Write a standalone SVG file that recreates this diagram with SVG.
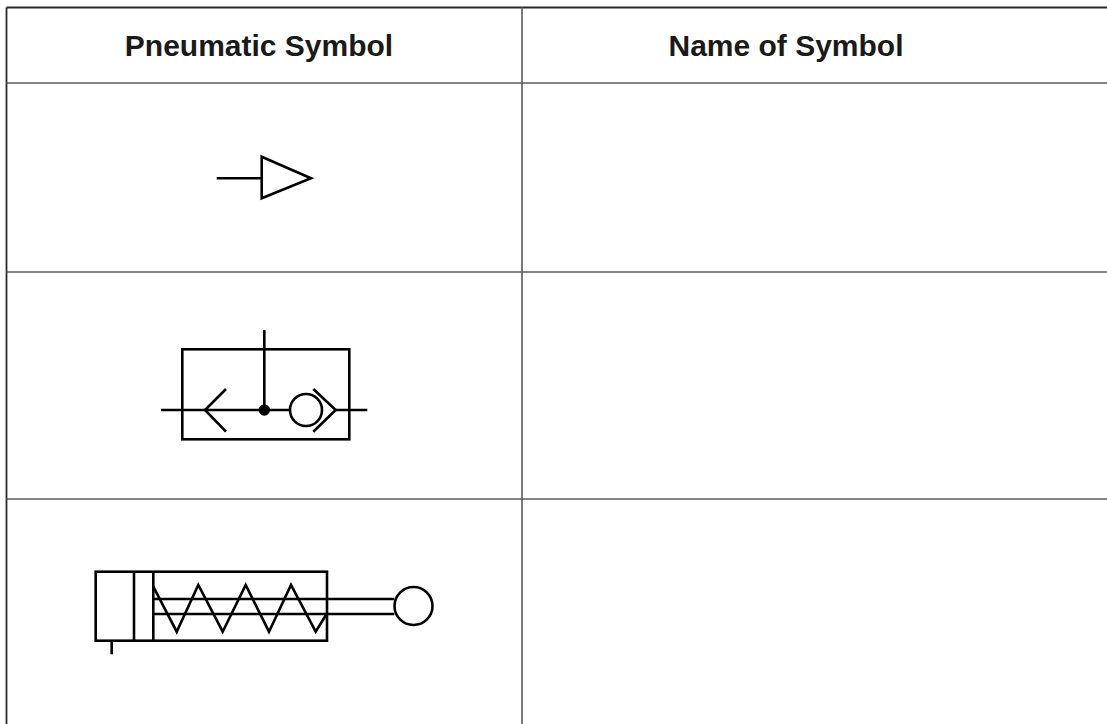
<svg xmlns="http://www.w3.org/2000/svg" width="1107" height="724" viewBox="0 0 1107 724">
<style>
.grid{stroke:#5a5a5a;stroke-width:1.6;fill:none}
.edge{stroke:#2a2a2a;stroke-width:1.8;fill:none}
.sym{stroke:#000;stroke-width:2.6;fill:none;stroke-linejoin:miter}
.hdr{font-family:"Liberation Sans",Arial,sans-serif;font-weight:bold;font-size:30px;fill:#1a1a1a}
</style>
<rect width="1107" height="724" fill="#fff"/>
<g id="table">
<line class="edge" x1="6.5" y1="7.5" x2="1107" y2="7.5"/>
<line class="edge" x1="6.5" y1="7.5" x2="6.5" y2="724"/>
<line class="grid" x1="522" y1="7.5" x2="522" y2="724"/>
<line class="grid" x1="6.5" y1="83" x2="1107" y2="83"/>
<line class="grid" x1="6.5" y1="272" x2="1107" y2="272"/>
<line class="grid" x1="6.5" y1="499" x2="1107" y2="499"/>
</g>
<g id="header">
<text class="hdr" x="259" y="56" text-anchor="middle">Pneumatic Symbol</text>
<text class="hdr" x="786" y="56" text-anchor="middle">Name of Symbol</text>
</g>
<g id="symbol-exhaust">
<line class="sym" x1="216.7" y1="178.3" x2="261.7" y2="178.3"/>
<polygon class="sym" points="261.7,156.7 311,178.3 261.7,198.3"/>
</g>
<g id="symbol-shuttle-valve">
<rect class="sym" x="182.3" y="349.3" width="167" height="90"/>
<line class="sym" x1="264.3" y1="330" x2="264.3" y2="410"/>
<line class="sym" x1="161" y1="410" x2="290" y2="410"/>
<line class="sym" x1="335.7" y1="410" x2="367.3" y2="410"/>
<circle cx="264.3" cy="410" r="5.7" fill="#000"/>
<polyline class="sym" points="226,389 205,410 226,431.7"/>
<circle class="sym" cx="306" cy="410" r="16"/>
<polyline class="sym" points="313.3,389 335.7,410 313.3,431.7"/>
</g>
<g id="symbol-cylinder">
<rect class="sym" x="95.7" y="571.7" width="231.3" height="69"/>
<line class="sym" x1="134" y1="571.7" x2="134" y2="640.7"/>
<line class="sym" x1="153.3" y1="571.7" x2="153.3" y2="640.7"/>
<line class="sym" x1="111.7" y1="640.7" x2="111.7" y2="654.3"/>
<line class="sym" x1="153.3" y1="599" x2="394.3" y2="599"/>
<line class="sym" x1="153.3" y1="614" x2="394.3" y2="614"/>
<circle class="sym" cx="413.5" cy="606" r="19"/>
<polyline class="sym" points="153.3,586.7 176.7,631.7 198.3,585 222.7,631.7 245.7,585 269,631.7 291,585 315.7,631.7 326,615"/>
</g>
</svg>
